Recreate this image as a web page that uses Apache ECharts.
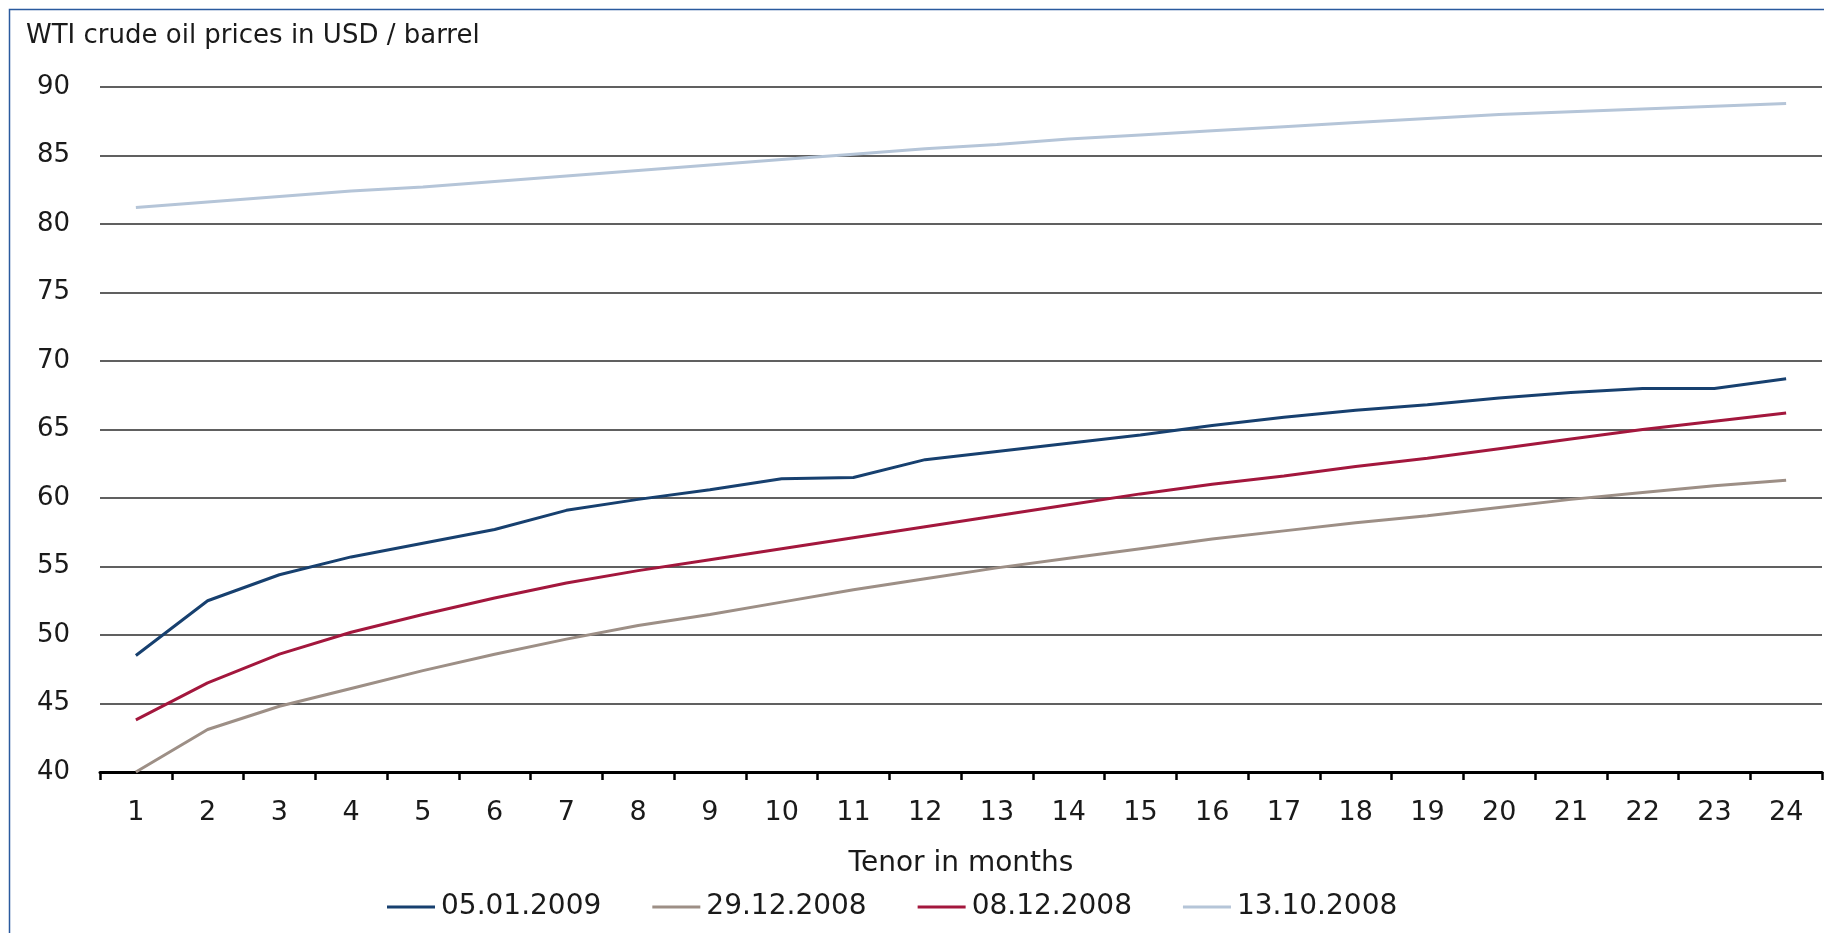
<!DOCTYPE html>
<html>
<head>
<meta charset="utf-8">
<title>WTI crude oil forward curves</title>
<script src="https://cdn.jsdelivr.net/npm/echarts@6/dist/echarts.min.js"></script>
<style>
  html, body { margin: 0; padding: 0; background: #ffffff; }
  #chart { width: 1824px; height: 933px; }
</style>
</head>
<body>
<div id="chart"></div>
<script>
// Tenor buckets (months) shown on the category axis
const tenors = ['1','2','3','4','5','6','7','8','9','10','11','12',
                '13','14','15','16','17','18','19','20','21','22','23','24'];

// Forward curve snapshots, USD per barrel
const curve_05_01_2009 = [48.5, 52.5, 54.4, 55.7, 56.7, 57.7, 59.1, 59.9, 60.6, 61.4, 61.5, 62.8,
                          63.4, 64.0, 64.6, 65.3, 65.9, 66.4, 66.8, 67.3, 67.7, 68.0, 68.0, 68.7];
const curve_29_12_2008 = [40.0, 43.1, 44.8, 46.1, 47.4, 48.6, 49.7, 50.7, 51.5, 52.4, 53.3, 54.1,
                          54.9, 55.6, 56.3, 57.0, 57.6, 58.2, 58.7, 59.3, 59.9, 60.4, 60.9, 61.3];
const curve_08_12_2008 = [43.8, 46.5, 48.6, 50.2, 51.5, 52.7, 53.8, 54.7, 55.5, 56.3, 57.1, 57.9,
                          58.7, 59.5, 60.3, 61.0, 61.6, 62.3, 62.9, 63.6, 64.3, 65.0, 65.6, 66.2];
const curve_13_10_2008 = [81.2, 81.6, 82.0, 82.4, 82.7, 83.1, 83.5, 83.9, 84.3, 84.7, 85.1, 85.5,
                          85.8, 86.2, 86.5, 86.8, 87.1, 87.4, 87.7, 88.0, 88.2, 88.4, 88.6, 88.8];

const seriesNames = ['05.01.2009', '29.12.2008', '08.12.2008', '13.10.2008'];
const seriesColors = ['#17406f', '#9d8f86', '#a3173d', '#b5c5d8'];
const seriesData = [curve_05_01_2009, curve_29_12_2008, curve_08_12_2008, curve_13_10_2008];

const FONT = '"DejaVu Sans", "Liberation Sans", sans-serif';
const TEXT = '#1a1a1a';

const chart = echarts.init(document.getElementById('chart'), null, { renderer: 'canvas' });

chart.setOption({
  animation: false,
  backgroundColor: '#ffffff',
  title: {
    text: 'WTI crude oil prices in USD / barrel',
    left: 26,
    top: 23,
    padding: 0,
    textStyle: { fontFamily: FONT, fontSize: 26, fontWeight: 'normal', color: TEXT }
  },
  graphic: [{
    type: 'rect',
    silent: true,
    shape: { x: 9.5, y: 9.5, width: 1830, height: 940 },
    style: { fill: 'none', stroke: '#2a5a9e', lineWidth: 1.5 },
    z: 100
  }],
  legend: {
    data: seriesNames,
    left: 387,
    top: 893,
    padding: 0,
    icon: 'rect',
    itemWidth: 48,
    itemHeight: 3,
    itemGap: 51,
    textStyle: { fontFamily: FONT, fontSize: 28, color: TEXT, padding: [0, 0, 0, 1] }
  },
  grid: { left: 100, right: 2, top: 87, bottom: 161, containLabel: false },
  xAxis: {
    type: 'category',
    data: tenors,
    boundaryGap: true,
    name: 'Tenor in months',
    nameLocation: 'middle',
    nameGap: 78,
    nameTextStyle: { fontFamily: FONT, fontSize: 28, color: TEXT },
    axisLine: { lineStyle: { color: '#000000', width: 3 } },
    axisTick: { show: true, inside: false, length: 8, lineStyle: { color: '#000000', width: 2.5 } },
    axisLabel: { margin: 27, fontFamily: FONT, fontSize: 27, color: TEXT },
    splitLine: { show: false }
  },
  yAxis: {
    type: 'value',
    min: 40,
    max: 90,
    interval: 5,
    axisLine: { show: false },
    axisTick: { show: false },
    axisLabel: { margin: 30, fontFamily: FONT, fontSize: 26, color: TEXT },
    splitLine: { show: true, lineStyle: { color: '#2b2b2b', width: 1.5 } }
  },
  series: seriesNames.map((name, i) => ({
    name: name,
    type: 'line',
    data: seriesData[i],
    symbol: 'none',
    smooth: false,
    lineStyle: { color: seriesColors[i], width: 3 },
    itemStyle: { color: seriesColors[i] },
    z: 10 - i
  }))
});
</script>
</body>
</html>
